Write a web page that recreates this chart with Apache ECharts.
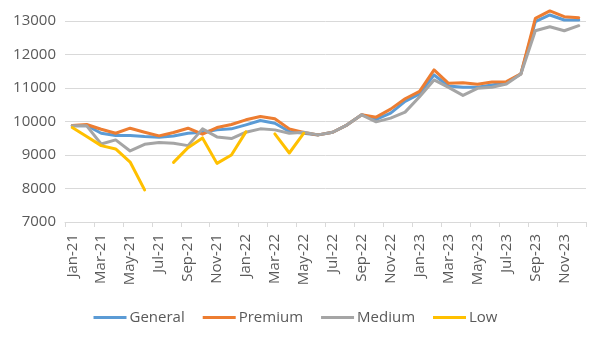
<!DOCTYPE html>
<html>
<head>
<meta charset="utf-8">
<script src="https://cdn.jsdelivr.net/npm/echarts@6/dist/echarts.min.js"></script>
<style>
html,body{margin:0;padding:0;background:#fff;}
#chart{width:591px;height:338px;}
</style>
</head>
<body>
<div id="chart"></div>
<script>
const categories = [
  'Jan-21','Feb-21','Mar-21','Apr-21','May-21','Jun-21','Jul-21','Aug-21','Sep-21','Oct-21','Nov-21','Dec-21',
  'Jan-22','Feb-22','Mar-22','Apr-22','May-22','Jun-22','Jul-22','Aug-22','Sep-22','Oct-22','Nov-22','Dec-22',
  'Jan-23','Feb-23','Mar-23','Apr-23','May-23','Jun-23','Jul-23','Aug-23','Sep-23','Oct-23','Nov-23','Dec-23'
];
const general = [
  9870, 9880, 9650, 9580, 9580, 9550, 9530, 9570, 9650, 9680, 9750, 9780,
  9900, 10030, 9950, 9700, 9650, 9600, 9680, 9900, 10200, 10060, 10250, 10600,
  10820, 11390, 11060, 11020, 11020, 11090, 11160, 11420, 12980, 13180, 13030, 13030
];
const premium = [
  9880, 9910, 9770, 9650, 9800, 9680, 9570, 9670, 9800, 9620, 9820, 9910,
  10050, 10150, 10080, 9780, 9670, 9600, 9680, 9900, 10200, 10130, 10370, 10680,
  10900, 11540, 11140, 11160, 11110, 11180, 11190, 11420, 13080, 13300, 13130, 13100
];
const medium = [
  9870, 9870, 9330, 9450, 9120, 9320, 9370, 9350, 9280, 9780, 9540, 9490,
  9680, 9780, 9750, 9650, 9680, 9600, 9680, 9900, 10200, 9990, 10100, 10280,
  10740, 11240, 11020, 10780, 10990, 11020, 11120, 11420, 12710, 12830, 12710, 12860
];
const low = [
  9820, 9550, 9280, 9180, 8790, 7960, null, 8780, 9220, 9510, 8750, 9000,
  9690, null, 9630, 9060, 9650, null, null, null, null, null, null, null,
  null, null, null, null, null, null, null, null, null, null, null, null
];
const seriesNames = ['General', 'Premium', 'Medium', 'Low'];
const seriesColors = ['#5B9BD5', '#ED7D31', '#A5A5A5', '#FFC000'];
const seriesData = [general, premium, medium, low];
const yMin = 7000, yMax = 13000, yStep = 1000;

const chart = echarts.init(document.getElementById('chart'), null, {renderer: 'canvas'});
const fontFamily = '"Open Sans", "Liberation Sans", sans-serif';
chart.setOption({
  animation: false,
  backgroundColor: '#ffffff',
  grid: {left: 65, right: 5, top: 21, bottom: 116},
  legend: {
    data: seriesNames,
    bottom: 8,
    left: 'center',
    icon: 'rect',
    itemWidth: 33,
    itemHeight: 3,
    itemGap: 18,
    textStyle: {color: '#595959', fontSize: 15, fontFamily: fontFamily, padding: [0, 0, 0, -2]}
  },
  xAxis: {
    type: 'category',
    data: categories,
    boundaryGap: true,
    axisLine: {show: true, lineStyle: {color: '#d9d9d9', width: 1}},
    axisTick: {show: true, interval: 1, length: 5, lineStyle: {color: '#d9d9d9'}},
    axisLabel: {interval: 1, rotate: 90, margin: 12, color: '#595959', fontSize: 15, fontFamily: fontFamily},
    splitLine: {show: false}
  },
  yAxis: {
    type: 'value',
    min: yMin,
    max: yMax,
    interval: yStep,
    axisLine: {show: false},
    axisTick: {show: false},
    axisLabel: {margin: 9, color: '#595959', fontSize: 15, fontFamily: fontFamily, formatter: v => String(v)},
    splitLine: {show: true, lineStyle: {color: '#d9d9d9', width: 1}}
  },
  series: seriesNames.map((name, i) => ({
    name: name,
    type: 'line',
    data: seriesData[i],
    symbol: 'none',
    showSymbol: false,
    connectNulls: false,
    clip: false,
    lineStyle: {color: seriesColors[i], width: 3, cap: 'round', join: 'round'},
    itemStyle: {color: seriesColors[i]},
    z: 2 + i
  }))
});
</script>
</body>
</html>
